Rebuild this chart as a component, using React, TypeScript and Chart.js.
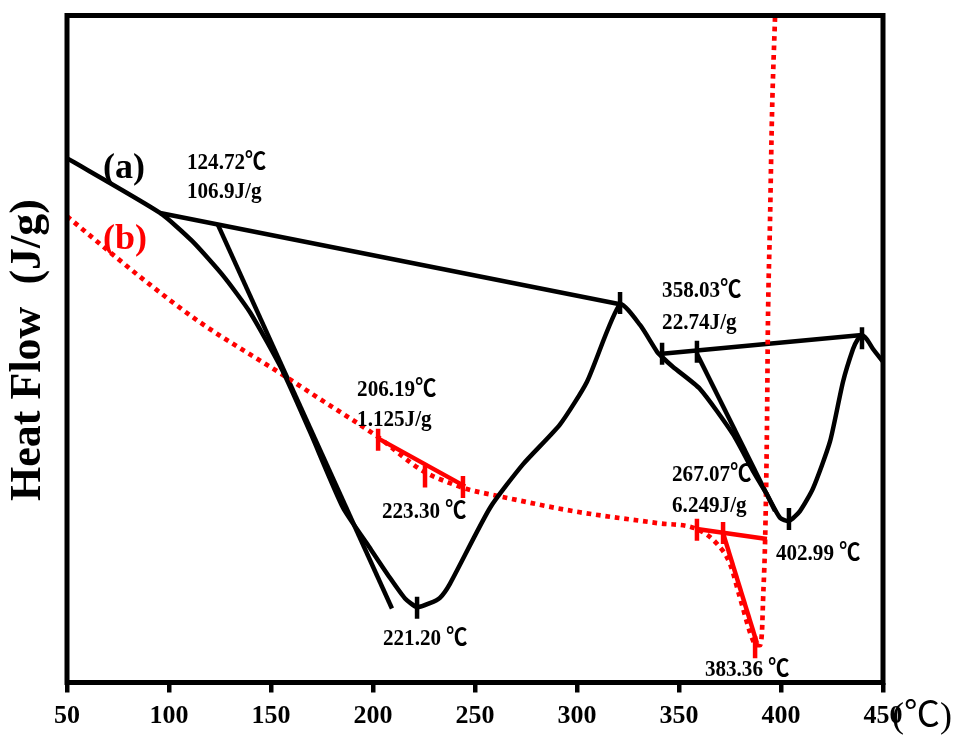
import React, { useEffect, useRef } from "react";
import { Chart, registerables } from "chart.js";
Chart.register(...registerables);

// ---- Data (temperature in ℃, heat flow in arbitrary units) ----
const xTicks = [50, 100, 150, 200, 250, 300, 350, 400, 450];

const curveA_T = [50, 95.6, 111.3, 126.5, 139.7, 155.9, 169.1, 185.3, 197.1, 208.3, 215.7, 221.6, 227.9, 232.8, 237.7, 257.4, 273.5, 291.7, 304.9, 321.1, 330.9, 339.2, 341.7, 347.1, 360.3, 376.5, 386.3, 393.1, 399.5, 403.9, 409.3, 415.7, 424.0, 430.4, 435.3, 437.5, 439.7, 442.2, 445.1, 450];
const curveA_HF = [78.6, 70.4, 66.2, 61.0, 55.5, 46.6, 37.6, 26.2, 20.8, 15.7, 12.6, 11.3, 11.9, 12.7, 14.8, 26.2, 32.7, 38.7, 45.1, 56.7, 53.6, 49.6, 48.8, 47.3, 44.0, 37.2, 31.7, 28.2, 24.7, 24.2, 25.7, 29.1, 36.1, 45.1, 50.0, 51.4, 52.1, 51.4, 50.0, 48.1];

const curveB_T = [50, 71.1, 89.2, 115.2, 155.9, 174.0, 202.0, 224.5, 237.7, 246.1, 262.3, 298.0, 339.2, 358.8, 368.6, 375.0, 379.9, 386.3, 388.2, 389.7, 390.7, 391.2, 392.2, 393.1, 393.6, 394.6, 395.6, 397.1];
const curveB_HF = [69.9, 64.5, 60.0, 54.0, 46.1, 42.5, 36.9, 31.7, 29.9, 29.0, 27.9, 25.7, 23.9, 23.0, 20.8, 17.8, 12.7, 6.3, 5.6, 5.6, 7.8, 12.3, 21.2, 37.6, 54.0, 68.9, 85.3, 100];

// Tangent / baseline constructions: [T start, T end], [HF start, HF end]
const tangentA1_T = [95.6, 321.1];
const tangentA1_HF = [70.4, 56.7];
const tangentA2_T = [124.0, 209.3];
const tangentA2_HF = [68.6, 11.1];
const tangentA3_T = [341.7, 439.7];
const tangentA3_HF = [49.3, 52.1];
const tangentA4_T = [358.8, 397.1];
const tangentA4_HF = [49.3, 25.7];

const tangentB1_T = [202.5, 245.1];
const tangentB1_HF = [36.6, 29.4];
const tangentB2_T = [358.8, 393.1];
const tangentB2_HF = [23.0, 21.5];
const tangentB3_T = [371.6, 388.2];
const tangentB3_HF = [22.4, 5.9];

// Marker ticks
const markA_T = [321.1, 341.7, 358.8, 221.6, 403.9, 439.7];
const markA_HF = [56.9, 49.3, 49.6, 11.2, 24.5, 51.6];
const markB_T = [202.5, 225.5, 244.1, 358.8, 371.6, 387.3];
const markB_HF = [36.4, 30.9, 29.3, 22.9, 22.4, 5.3];

// Annotations
const noteTexts = ["(a)", "(b)", "124.72℃", "106.9J/g", "206.19℃", "1.125J/g", "223.30 ℃", "221.20 ℃", "358.03℃", "22.74J/g", "267.07℃", "6.249J/g", "402.99 ℃", "383.36 ℃"];
const noteT = [67.6, 67.6, 108.8, 108.8, 192.2, 192.2, 204.4, 204.9, 341.7, 341.7, 346.6, 346.6, 397.5, 362.7];
const noteHF = [77.1, 66.4, 77.9, 73.5, 43.9, 39.4, 25.6, 6.5, 58.8, 54.0, 31.1, 26.5, 19.3, 1.9];
const noteKinds = ["big", "bigRed", "s", "s", "s", "s", "s", "s", "s", "s", "s", "s", "s", "s"];

const yTitle = "Heat Flow  (J/g)";
const xUnit = "(℃)";

const SERIF = '"Liberation Serif", "Times New Roman", "Noto Sans CJK SC", serif';

function pts(T: number[], V: number[]) {
  return T.map((t, i) => ({ x: t, y: V[i] }));
}

function drawText(ctx: CanvasRenderingContext2D, text: string, x: number, y: number, font: string, color: string, sx: number, align: CanvasTextAlign, rot = 0) {
  ctx.save();
  ctx.translate(x, y);
  if (rot) ctx.rotate(rot);
  ctx.scale(sx, 1);
  ctx.font = font;
  ctx.fillStyle = color;
  ctx.textAlign = align;
  ctx.textBaseline = "middle";
  ctx.fillText(text, 0, 0);
  ctx.restore();
}

const decorPlugin = {
  id: "decor",
  afterDraw(chart: any) {
    const ctx: CanvasRenderingContext2D = chart.ctx;
    const a = chart.chartArea;
    const xs = chart.scales.x;
    const ys = chart.scales.y;
    ctx.save();
    ctx.strokeStyle = "#000";
    ctx.lineWidth = 5;
    ctx.strokeRect(a.left, a.top, a.right - a.left, a.bottom - a.top);
    ctx.restore();

    noteTexts.forEach((t, i) => {
      const px = xs.getPixelForValue(noteT[i]);
      const py = ys.getPixelForValue(noteHF[i]);
      const k = noteKinds[i];
      if (k === "big") drawText(ctx, t, px, py, `bold 36px ${SERIF}`, "#000", 1, "left");
      else if (k === "bigRed") drawText(ctx, t, px, py, `bold 36px ${SERIF}`, "#ff0000", 1, "left");
      else drawText(ctx, t, px, py, `bold 24px ${SERIF}`, "#000", 0.88, "left");
    });

    drawText(ctx, yTitle, 29, 350, `bold 44px ${SERIF}`, "#000", 1, "center", -Math.PI / 2);
    drawText(ctx, xUnit, 922, 718, `36px ${SERIF}`, "#000", 1, "center");
  },
};

export default function App() {
  const ref = useRef<HTMLCanvasElement>(null);
  useEffect(() => {
    const black = "#000000";
    const red = "#ff0000";
    const seg = (T: number[], V: number[], color: string) => ({
      data: pts(T, V),
      borderColor: color,
      borderWidth: 4.5,
      pointRadius: 0,
      tension: 0,
      fill: false,
    });
    const marks = (T: number[], V: number[], color: string) => ({
      data: pts(T, V),
      showLine: false,
      pointStyle: "line",
      rotation: 90,
      pointRadius: 11,
      pointBorderWidth: 4.5,
      borderColor: color,
      pointBorderColor: color,
      backgroundColor: color,
    });
    const chart = new Chart(ref.current!, {
      type: "line",
      data: {
        datasets: [
          {
            data: pts(curveA_T, curveA_HF),
            borderColor: black,
            borderWidth: 4.5,
            borderJoinStyle: "round",
            pointRadius: 0,
            tension: 0.2,
            fill: false,
          } as any,
          {
            data: pts(curveB_T, curveB_HF),
            borderColor: red,
            borderWidth: 4.7,
            borderDash: [4.7, 4.8],
            borderCapStyle: "butt",
            pointRadius: 0,
            cubicInterpolationMode: "monotone",
            fill: false,
          } as any,
          seg(tangentA1_T, tangentA1_HF, black),
          seg(tangentA2_T, tangentA2_HF, black),
          seg(tangentA3_T, tangentA3_HF, black),
          seg(tangentA4_T, tangentA4_HF, black),
          seg(tangentB1_T, tangentB1_HF, red),
          seg(tangentB2_T, tangentB2_HF, red),
          seg(tangentB3_T, tangentB3_HF, red),
          marks(markA_T, markA_HF, black),
          marks(markB_T, markB_HF, red),
        ] as any,
      },
      options: {
        animation: false,
        responsive: true,
        maintainAspectRatio: false,
        layout: { padding: { left: 67, right: 74, top: 11.5, bottom: 0 } },
        plugins: { legend: { display: false }, tooltip: { enabled: false } },
        events: [],
        scales: {
          x: {
            type: "linear",
            min: 50,
            max: 450,
            afterBuildTicks: (s: any) => {
              s.ticks = xTicks.map((v) => ({ value: v }));
            },
            afterFit: (s: any) => {
              s.height = 55.5;
            },
            grid: { drawOnChartArea: false, drawTicks: true, tickLength: 10, lineWidth: 4.5, color: black },
            border: { display: false },
            ticks: {
              color: black,
              padding: 8,
              font: { family: SERIF, size: 26, weight: "bold" },
              maxRotation: 0,
              autoSkip: false,
            },
          },
          y: {
            type: "linear",
            min: 0,
            max: 100,
            display: false,
          },
        },
      } as any,
      plugins: [decorPlugin],
    });
    return () => chart.destroy();
  }, []);
  return (
    <div style={{ position: "fixed", left: 0, top: 0, width: 957, height: 738, background: "#fff" }}>
      <canvas ref={ref} />
    </div>
  );
}
